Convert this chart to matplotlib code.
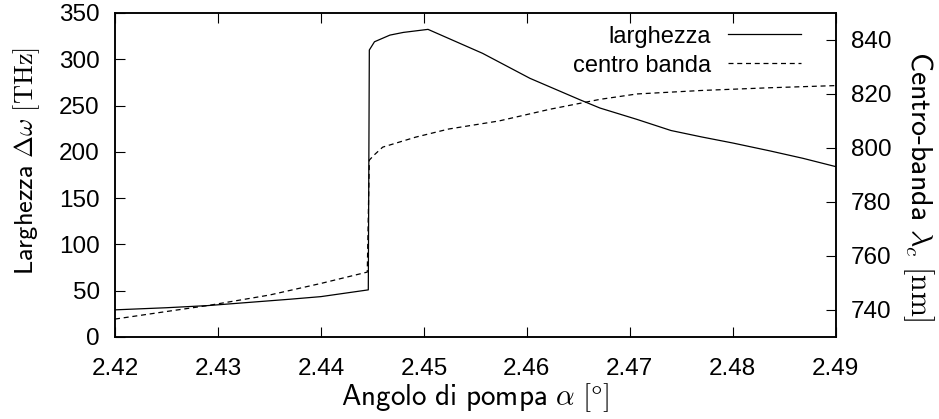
import matplotlib
matplotlib.use("Agg")
import matplotlib.pyplot as plt

plt.rcParams["font.family"] = ["Liberation Sans", "DejaVu Sans"]
plt.rcParams["mathtext.fontset"] = "cm"

# larghezza (left axis, THz)
x_larg = [2.420, 2.425, 2.429, 2.437, 2.440, 2.4446, 2.4447, 2.4452, 2.4467,
          2.4480, 2.4504, 2.4557, 2.4603, 2.4652, 2.4671, 2.4707,
          2.4740, 2.4770, 2.4800, 2.4836, 2.4868, 2.4900]
y_larg = [29.2, 31.5, 33.8, 40.7, 43.5, 50.8, 310, 318.9, 326.1,
          329, 332.3, 306.4, 279.4, 256, 247.3, 235,
          223, 216, 209.5, 201, 193, 184]

# centro banda (right axis, nm)
x_centro = [2.420, 2.425, 2.429, 2.435, 2.440, 2.4445, 2.4447, 2.4452, 2.4460,
            2.4492, 2.4524, 2.4573, 2.4622, 2.4671, 2.4707, 2.4770,
            2.4836, 2.4900]
y_centro = [736.6, 739.4, 741.6, 745.5, 749.8, 754.0, 795.5, 797.5, 800.3,
            804.0, 807.0, 810.0, 814.3, 818.0, 820.0, 821.3,
            822.3, 823.1]

xticks = [2.42, 2.43, 2.44, 2.45, 2.46, 2.47, 2.48, 2.49]
yticks_left = [0, 50, 100, 150, 200, 250, 300, 350]
yticks_right = [740, 760, 780, 800, 820, 840]

fig, ax = plt.subplots(figsize=(9.39, 4.19), dpi=100)
fig.subplots_adjust(left=0.1225, right=0.890, bottom=0.196, top=0.969)
ax2 = ax.twinx()

l1, = ax.plot(x_larg, y_larg, color="black", lw=0.9, label="larghezza")
l2, = ax2.plot(x_centro, y_centro, color="black", lw=0.9, dashes=(4, 3),
               label="centro banda")

ax.set_xlim(2.42, 2.49)
ax.set_ylim(0, 350)
ax2.set_ylim(730, 850)
ax.set_xticks(xticks)
ax.set_xticklabels([f"{t:.2f}" for t in xticks])
ax.set_yticks(yticks_left)
ax2.set_yticks(yticks_right)

ax.tick_params(axis="both", direction="in", length=7, labelsize=17.5,
               top=True, right=False)
ax.tick_params(axis="x", pad=15)
ax.tick_params(axis="y", pad=11)
ax2.tick_params(axis="y", direction="in", length=7, labelsize=17.5, pad=11)
for a in (ax, ax2):
    for s in a.spines.values():
        s.set_linewidth(1.1)

ax.set_xlabel(r"$\mathsf{Angolo\ di\ pompa}\ \alpha\ [\degree]$", fontsize=21)
ax.xaxis.set_label_coords(0.5, -0.137)
ax.set_ylabel(r"$\mathsf{Larghezza}\ \Delta\omega\ [\mathrm{THz}]$",
              fontsize=19, labelpad=12, y=0.543)
ax2.set_ylabel(r"$\mathsf{Centro}\text{-}\mathsf{banda}\ \lambda_c\ [\mathrm{nm}]$",
               fontsize=21.5, rotation=270, va="bottom", labelpad=7, y=0.464)

ax.legend(handles=[l1, l2], loc="upper right", bbox_to_anchor=(0.965, 0.99),
          frameon=False, fontsize=17, markerfirst=False, handlelength=3.1,
          handletextpad=0.72, labelspacing=0.3, borderaxespad=0)

fig.savefig("out.png", dpi=100)
